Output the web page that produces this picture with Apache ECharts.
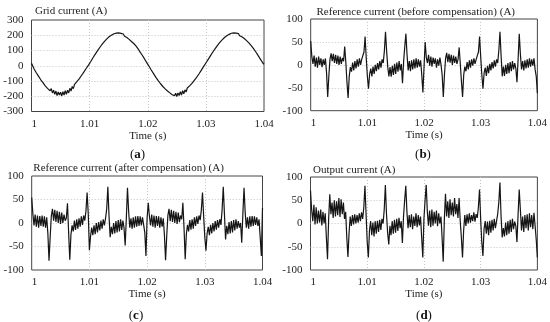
<!DOCTYPE html>
<html><head><meta charset="utf-8">
<script src="https://cdn.jsdelivr.net/npm/echarts/dist/echarts.min.js"></script>
<style>html,body{margin:0;padding:0;background:#fff}#c{width:550px;height:322px}</style>
</head><body><div id="c"></div>
<script>
// sampling grid of the traces (s)
const tStart = 1.0;
const tStep = 0.0002;
const xTickLabels = ['1', '1.01', '1.02', '1.03', '1.04'];
const gridTicks = ['300', '200', '100', '0', '-100', '-200', '-300'];
const refTicks = ['100', '50', '0', '-50', '-100'];
const panelTitles = ['Grid current (A)', 'Reference current (before compensation) (A)',
  'Reference current (after compensation) (A)', 'Output current (A)'];
const panelLetters = ['a', 'b', 'c', 'd'];

// (a) grid current (A)
const gridCurrent = [
  16, 0, -18, -20, -44, -40, -68, -62, -92, -86,
  -112, -104, -134, -122, -150, -138, -164, -150, -178, -160,
  -188, -166, -196, -172, -192, -174, -198, -170, -192, -164,
  -188, -160, -178, -148, -166, -136, -150, -122, -134, -104,
  -114, -86, -90, -64, -68, -42, -44, -18, -20, 4,
  8, 28, 32, 54, 56, 78, 80, 101, 102, 123,
  123, 143, 143, 161, 160, 178, 174, 192, 186, 202,
  195, 210, 201, 214, 204, 215, 203, 212, 201, 208,
  194, 201, 185, 191, 173, 178, 159, 160, 146, 136,
  129, 116, 108, 94, 86, 72, 62, 48, 38, 22,
  12, -2, -12, -28, -36, -52, -60, -76, -82, -98,
  -102, -118, -122, -136, -138, -152, -152, -166, -164, -178,
  -172, -190, -178, -196, -180, -202, -178, -196, -170, -192,
  -164, -184, -158, -172, -146, -158, -132, -140, -116, -122,
  -96, -100, -76, -78, -54, -54, -30, -30, -6, -4,
  18, 18, 42, 44, 66, 68, 90, 91, 112, 112,
  133, 132, 153, 150, 170, 166, 185, 180, 197, 190,
  206, 198, 213, 202, 216, 204, 214, 202, 211, 197,
  205, 190, 196, 179, 184, 165, 170, 150, 152, 132,
  133, 112, 112, 90, 88, 66, 66, 42, 40, 18,
  10
];

// (b) reference current before compensation (A)
const refBefore = [
  52, 18, 2, 20, -4, 16, -6, 18, 0, 14,
  -5, 12, 0, 14, -18, -70, -25, 12, 25, 8,
  24, 4, 22, 2, 20, 0, 18, 2, 15, 8,
  40, 5, -38, -72, -25, -5, -15, 5, -12, 8,
  -8, 12, -4, 14, 0, 12, 8, 28, 62, 15,
  -25, -52, -20, -8, -25, -4, -20, 0, -14, 4,
  -10, 8, -6, 12, 4, 30, 72, 30, -5, -25,
  -5, -26, -2, -22, 2, -20, 5, -15, 8, -12,
  2, -40, 8, 40, 68, 22, -12, 8, -14, 10,
  -10, 12, -8, 14, -6, 12, -4, 10, -22, -60,
  -5, 50, 16, 4, 22, -2, 18, -4, 16, 2,
  14, -6, 12, -2, 16, 0, -22, -70, -22, 14,
  26, 6, 24, 5, 22, 0, 20, 4, 18, 2,
  12, 38, 2, -36, -70, -22, -4, -14, 6, -10,
  10, -6, 12, -2, 14, 2, 12, 10, 28, 62,
  18, -22, -52, -18, -6, -24, -2, -18, 2, -12,
  6, -8, 10, -4, 12, 4, 32, 72, 20, -25,
  -4, -24, 0, -20, 4, -18, 6, -14, 8, -10,
  4, -8, -38, 12, 68, 24, -10, 8, -12, 10,
  -8, 12, -6, 14, -4, 12, -2, 14, -10, -25,
  -62
];

// (c) reference current after compensation (A)
const refAfter = [
  54, 20, -5, 18, -8, 16, -10, 15, -6, 16,
  -8, 14, -10, 12, -22, -80, -30, 15, 30, 5,
  28, 2, 26, 0, 24, -2, 22, 0, 18, 5,
  10, 42, -20, -78, -25, -5, -18, 5, -15, 8,
  -12, 10, -8, 14, -4, 16, 5, 25, 65, 20,
  -58, -28, -10, -26, -5, -24, 0, -20, 2, -16,
  5, -12, 8, -5, 10, 30, 77, 15, -30, -8,
  -24, 0, -22, 4, -20, 6, -18, 8, -15, 5,
  -10, -48, 10, 75, 25, -10, 10, -12, 12, -10,
  14, -8, 15, -6, 14, -5, 12, -4, -20, -70,
  10, 43, 15, -5, 18, -8, 16, -10, 15, -6,
  14, -10, 12, -8, 10, -25, -79, -28, 16, 30,
  4, 28, 2, 26, 0, 24, -2, 22, 2, 16,
  8, 43, -10, -77, -24, -4, -18, 6, -14, 8,
  -12, 12, -6, 14, -2, 16, 6, 28, 65, 15,
  -30, -59, -22, -8, -26, -4, -22, 0, -18, 4,
  -14, 6, -10, 8, -4, 28, 77, 20, -35, -6,
  -24, 2, -22, 4, -20, 6, -16, 8, -12, 4,
  -10, 0, -42, 20, 75, 22, -10, 12, -12, 14,
  -8, 15, -6, 14, -4, 12, -6, 8, -30, -70,
  32
];

// (d) output current (A)
const outputCurrent = [
  71, 30, 5, 40, -2, 35, 0, 28, 2, 30,
  -4, 25, 0, 22, -30, -77, 10, 63, 20, 45,
  12, 50, 15, 48, 18, 55, 14, 52, 20, 45,
  10, 25, -30, -72, -20, 15, -5, 18, -2, 20,
  0, 18, 2, 22, 5, 24, 10, 35, 81, 20,
  -40, -73, -15, 5, -25, 2, -28, 5, -22, 6,
  -18, 8, -14, 10, 0, 30, 83, 20, -20, -45,
  -5, -25, 5, -22, 8, -20, 10, -16, 12, -10,
  5, -42, 15, 50, 81, 25, -10, 18, -8, 20,
  -12, 15, -5, 22, -8, 18, -4, 15, -30, -73,
  10, 50, 83, 25, -5, 28, -8, 30, -5, 25,
  0, 28, -6, 22, 0, 15, -30, -82, 10, 64,
  15, 48, 12, 52, 18, 45, 15, 55, 20, 42,
  12, 55, 5, -30, -73, -15, 18, -5, 20, 0,
  22, 2, 18, 5, 24, 4, 20, 12, 35, 73,
  10, -40, -70, -12, 5, -22, 4, -25, 6, -20,
  8, -15, 10, -10, 5, 20, 45, 88, 15, -30,
  -10, -28, 2, -25, 5, -22, 8, -18, 10, -12,
  4, -5, -40, 20, 73, 30, -15, 15, -18, 18,
  -10, 20, -15, 22, -8, 18, -12, 23, -5, -35,
  -73
];

const FONT = '"Liberation Serif", "DejaVu Serif", serif';
const allSeries = [gridCurrent, refBefore, refAfter, outputCurrent];
const yRanges = [
  {min: +gridTicks[gridTicks.length - 1], max: +gridTicks[0], interval: 100},
  {min: +refTicks[refTicks.length - 1], max: +refTicks[0], interval: 50},
  {min: +refTicks[refTicks.length - 1], max: +refTicks[0], interval: 50},
  {min: +refTicks[refTicks.length - 1], max: +refTicks[0], interval: 50}
];
const grids = [
  {left: 31.5, top: 20, width: 232.5, height: 91.5},
  {left: 310.7, top: 19, width: 230, height: 91.7},
  {left: 31.7, top: 176, width: 230.8, height: 94},
  {left: 310.5, top: 177, width: 230.5, height: 93}
];
const titlePos = [[35, 11], [316.5, 12.3], [33.3, 168], [313, 170]];
const letterPos = [[137.5, 155], [423, 155], [136, 316], [424, 315.3]];

const xMin = +xTickLabels[0], xMax = +xTickLabels[xTickLabels.length - 1];

const option = {
  animation: false,
  backgroundColor: '#fff',
  grid: grids.map(g => Object.assign({show: true, borderColor: '#444', borderWidth: 1, containLabel: false}, g)),
  xAxis: grids.map((g, k) => ({
    type: 'value', gridIndex: k, min: xMin, max: xMax, interval: 0.01,
    name: 'Time (s)', nameLocation: 'middle', nameGap: 19,
    nameTextStyle: {fontFamily: FONT, fontSize: 11, color: '#222'},
    axisLine: {show: false}, axisTick: {show: false},
    axisLabel: {fontFamily: FONT, fontSize: 11, color: '#222', margin: 7, alignMinLabel: 'left',
      formatter: v => String(+v.toFixed(2))},
    splitLine: {show: true, showMinLine: false, showMaxLine: false,
      lineStyle: {color: '#c4c4c4', type: [1, 2], width: 1}}
  })),
  yAxis: grids.map((g, k) => Object.assign({
    type: 'value', gridIndex: k,
    axisLine: {show: false}, axisTick: {show: false},
    axisLabel: {fontFamily: FONT, fontSize: 11, color: '#222', margin: 8},
    splitLine: {show: true, showMinLine: false, showMaxLine: false,
      lineStyle: {color: '#c4c4c4', type: [1, 2], width: 1}}
  }, yRanges[k])),
  series: allSeries.map((arr, k) => ({
    type: 'line', xAxisIndex: k, yAxisIndex: k, showSymbol: false, symbol: 'none',
    lineStyle: {color: '#151515', width: 1.2},
    data: arr.map((v, i) => [tStart + i * tStep, v])
  })),
  graphic: panelTitles.map((t, k) => ({
    type: 'text', x: titlePos[k][0], y: titlePos[k][1], z: 10,
    style: {text: t, font: '11px ' + FONT, fill: '#222', align: 'left', verticalAlign: 'middle'}
  })).concat(panelLetters.map((l, k) => ({
    type: 'text', x: letterPos[k][0], y: letterPos[k][1], z: 10,
    style: {text: '{n|(}{b|' + l + '}{n|)}', align: 'center', verticalAlign: 'middle',
      rich: {n: {fontFamily: FONT, fontSize: 13, fill: '#111', color: '#111'},
             b: {fontFamily: FONT, fontSize: 13, fontWeight: 'bold', fill: '#111', color: '#111'}}}
  })))
};
const chart = echarts.init(document.getElementById('c'), null, {renderer: 'canvas'});
chart.setOption(option);
</script></body></html>
